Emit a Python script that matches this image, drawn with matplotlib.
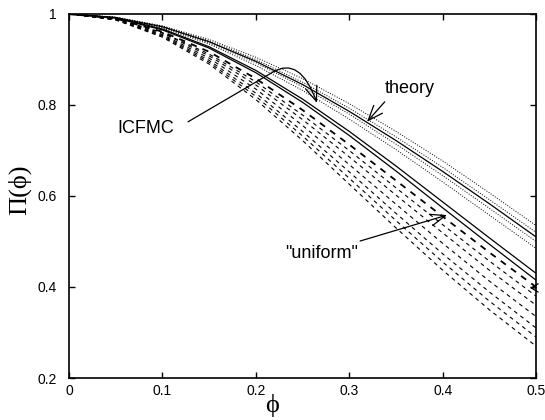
import matplotlib
matplotlib.use("Agg")
import matplotlib.pyplot as plt
from matplotlib.patches import FancyArrowPatch
from matplotlib.path import Path

plt.rcParams['font.family'] = ['Liberation Sans', 'DejaVu Sans']

# volume fraction samples
phi = [0, 0.05, 0.1, 0.15, 0.2, 0.25, 0.3, 0.35, 0.4, 0.45, 0.5]

# theory (dotted)
theory = [
    [1, 0.993, 0.974, 0.944, 0.905, 0.858, 0.803, 0.742, 0.677, 0.607, 0.535],
    [1, 0.993, 0.973, 0.941, 0.900, 0.850, 0.793, 0.730, 0.663, 0.592, 0.520],
    [1, 0.992, 0.971, 0.937, 0.893, 0.840, 0.780, 0.714, 0.645, 0.573, 0.500],
    [1, 0.992, 0.969, 0.934, 0.887, 0.832, 0.769, 0.702, 0.631, 0.558, 0.485],
]
# ICFMC (solid)
icfmc = [
    [1, 0.992, 0.972, 0.939, 0.896, 0.845, 0.786, 0.722, 0.654, 0.583, 0.510],
    [1, 0.992, 0.967, 0.928, 0.876, 0.813, 0.742, 0.666, 0.587, 0.508, 0.430],
    [1, 0.991, 0.965, 0.925, 0.871, 0.806, 0.733, 0.655, 0.574, 0.494, 0.415],
]
# "uniform" (dashed)
uniform = [
    [1, 0.990, 0.961, 0.917, 0.858, 0.789, 0.713, 0.634, 0.555, 0.476, 0.400],
    [1, 0.990, 0.959, 0.912, 0.851, 0.778, 0.700, 0.618, 0.537, 0.457, 0.380],
    [1, 0.989, 0.958, 0.908, 0.844, 0.768, 0.686, 0.602, 0.519, 0.437, 0.360],
    [1, 0.989, 0.955, 0.903, 0.835, 0.755, 0.669, 0.582, 0.496, 0.413, 0.335],
    [1, 0.988, 0.953, 0.898, 0.826, 0.742, 0.653, 0.562, 0.473, 0.389, 0.310],
    [1, 0.987, 0.951, 0.894, 0.819, 0.732, 0.639, 0.546, 0.455, 0.369, 0.290],
    [1, 0.987, 0.949, 0.890, 0.812, 0.722, 0.626, 0.530, 0.437, 0.350, 0.270],
]

xticks = [0, 0.1, 0.2, 0.3, 0.4, 0.5]
yticks = [0.2, 0.4, 0.6, 0.8, 1]

fig = plt.figure(figsize=(5.45, 4.2), dpi=100)
ax = fig.add_axes([0.1266, 0.1, 0.857, 0.8667])

for y in theory:
    ax.plot(phi, y, color='k', lw=0.7, linestyle=(0, (1, 1.6)))
for y in icfmc:
    ax.plot(phi, y, color='k', lw=0.9, linestyle='-')
for i, y in enumerate(uniform):
    ax.plot(phi, y, color='k', lw=1.3 if i == 0 else 0.8, linestyle=(0, (3.5, 3.5)))

ax.set_xlim(0, 0.5)
ax.set_ylim(0.2, 1)
ax.set_xticks(xticks)
ax.set_yticks(yticks)
ax.set_xticklabels([f'{v:g}' for v in xticks])
ax.set_yticklabels([f'{v:g}' for v in yticks])
ax.tick_params(direction='in', top=True, right=True, length=4, width=1,
               labelsize=10)
ax.tick_params(axis='x', pad=4)
ax.tick_params(axis='y', pad=9)
for s in ax.spines.values():
    s.set_linewidth(1.2)

serif = ['Liberation Serif', 'DejaVu Serif']
ax.set_ylabel('\u03a0(\u03d5)', fontsize=19, family=serif, va='center')
ax.yaxis.set_label_coords(-0.105, 0.516)
ax.set_xlabel('\u03d5', fontsize=19, family=serif, va='center')
ax.xaxis.set_label_coords(0.435, -0.075)

# annotations
ax.text(0.052, 0.749, 'ICFMC', fontsize=13, ha='left', va='center')
ax.text(0.338, 0.837, 'theory', fontsize=13, ha='left', va='center')
ax.text(0.231, 0.474, '"uniform"', fontsize=13, ha='left', va='center')

arrow_kw = dict(arrowstyle='->,head_length=0.9,head_width=0.35', color='k',
                lw=0.9, mutation_scale=12, shrinkA=0, shrinkB=0)
ax.annotate('', xy=(0.319, 0.763), xytext=(0.338, 0.807), arrowprops=arrow_kw)
ax.annotate('', xy=(0.4047, 0.558), xytext=(0.3116, 0.501), arrowprops=arrow_kw)
ax.annotate('', xy=(0.4935, 0.398), xytext=(0.4995, 0.398),
            arrowprops=dict(arrowstyle='->,head_length=0.5,head_width=0.3',
                            color='k', lw=0.9, mutation_scale=10,
                            shrinkA=0, shrinkB=0))

verts = [(0.1274, 0.763), (0.2184, 0.8725), (0.2473, 0.9077), (0.2655, 0.8044)]
codes = [Path.MOVETO, Path.LINETO, Path.CURVE3, Path.CURVE3]
curved = FancyArrowPatch(path=Path(verts, codes), **arrow_kw)
ax.add_patch(curved)

fig.savefig('out.png', dpi=100)
